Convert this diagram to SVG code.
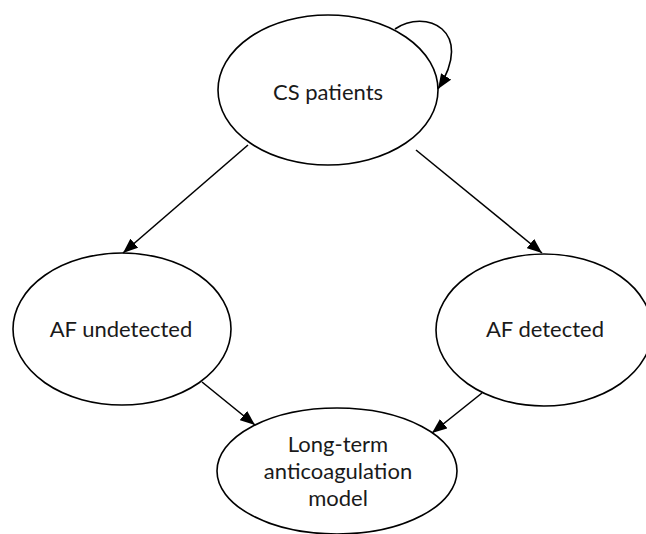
<svg xmlns="http://www.w3.org/2000/svg" width="646" height="534" viewBox="0 0 646 534">
  <style>
    .node ellipse { fill: #ffffff; stroke: #000000; stroke-width: 1.6; }
    .node text { font-family: Lato, "Open Sans", sans-serif; font-size: 22px; fill: #1a1a1a; text-anchor: middle; }
    .edge { fill: none; stroke: #000000; stroke-width: 1.6; marker-end: url(#arrow); }
  </style>
  <defs>
    <marker id="arrow" markerUnits="userSpaceOnUse" markerWidth="16" markerHeight="12" refX="15" refY="6" orient="auto">
      <path d="M0,0 L15,6 L0,12 Z" fill="#000000"/>
    </marker>
  </defs>
  <rect width="646" height="534" fill="#ffffff"/>

  <g id="node-cs-patients" class="node">
    <ellipse cx="328" cy="90" rx="110" ry="75"/>
    <text x="328" y="100">CS patients</text>
  </g>

  <g id="node-af-undetected" class="node">
    <ellipse cx="122" cy="329" rx="109" ry="76"/>
    <text x="121" y="337">AF undetected</text>
  </g>

  <g id="node-af-detected" class="node">
    <ellipse cx="544" cy="330" rx="108" ry="76"/>
    <text x="545" y="337">AF detected</text>
  </g>

  <g id="node-long-term" class="node">
    <ellipse cx="337" cy="471" rx="120" ry="63"/>
    <text x="338" y="452">Long-term</text>
    <text x="338" y="479">anticoagulation</text>
    <text x="338" y="506">model</text>
  </g>

  <g id="connectors">
    <path class="edge" d="M395,29 C425,8 476,30 438,89"/>
    <path class="edge" d="M248,145 L123,253"/>
    <path class="edge" d="M416,150 L542,253"/>
    <path class="edge" d="M202,382 L255,425"/>
    <path class="edge" d="M482,393 L432,433"/>
  </g>
</svg>
